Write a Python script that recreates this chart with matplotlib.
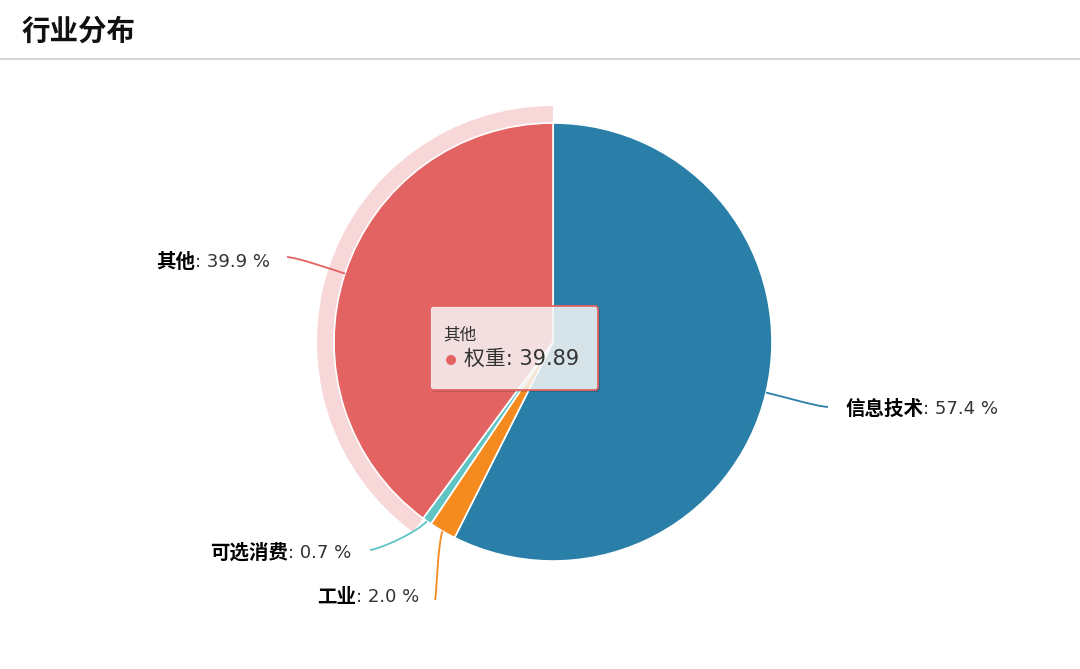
import matplotlib
matplotlib.use('Agg')
import matplotlib.pyplot as plt
import matplotlib.patches as mpatches
from matplotlib.path import Path
import numpy as np

plt.rcParams['font.family'] = ['DejaVu Sans', 'Noto Sans CJK SC']

# data
sectors = ['信息技术', '工业', '可选消费', '其他']
weights = [57.42, 1.99, 0.70, 39.89]
colors = ['#2a7fa9', '#f58a1f', '#5ec4c4', '#e36363']
hover_idx = 3  # slice under the tooltip

# layout (pixel coords, y measured from top)
W, H = 1080, 669
center_px = (553, 342)
radius = 219
halo_width = 17
label_anchor = [(845, 409), (419, 597), (351, 553), (270, 262)]
label_ha = ['left', 'right', 'right', 'right']
line_end = [(828, 407), (435, 600), (370, 550), (287, 257)]


def py(y):
    return H - y


fig = plt.figure(figsize=(W / 100, H / 100), dpi=100)
ax = fig.add_axes([0, 0, 1, 1])

cx, cy = center_px[0], py(center_px[1])
wedges, _ = ax.pie(weights, colors=colors, startangle=90, counterclock=False,
                   center=(cx, cy), radius=radius,
                   wedgeprops=dict(edgecolor='white', linewidth=1.2))

# hover halo around highlighted slice
hw = wedges[hover_idx]
halo = mpatches.Wedge((cx, cy), radius + halo_width, hw.theta1, hw.theta2,
                      width=halo_width, facecolor=colors[hover_idx], alpha=0.25,
                      edgecolor='none', zorder=0)
ax.add_patch(halo)

ax.set_xlim(0, W)
ax.set_ylim(0, H)
ax.set_aspect('auto')
ax.axis('off')

# title + separator
ax.text(22, py(32), '行业分布', fontsize=20.5, fontweight='bold', color='#111',
        ha='left', va='center')
ax.plot([0, W], [py(59), py(59)], color='#d4d4d4', linewidth=1.5)

# data labels with connectors
total = sum(weights)
for i, w in enumerate(wedges):
    mid = np.deg2rad((w.theta1 + w.theta2) / 2)
    sx, sy = cx + radius * np.cos(mid), cy + radius * np.sin(mid)
    ex, ey = line_end[i][0], py(line_end[i][1])
    # simple curved connector
    c1 = (sx + (ex - sx) * 0.1 + 8 * np.cos(mid), sy + 14 * np.sin(mid))
    c2 = (ex + (sx - ex) * 0.2, ey + (sy - ey) * 0.05)
    path = Path([(sx, sy), c1, c2, (ex, ey)],
                [Path.MOVETO, Path.CURVE4, Path.CURVE4, Path.CURVE4])
    ax.add_patch(mpatches.PathPatch(path, facecolor='none', edgecolor=colors[i],
                                    linewidth=1.3))

    pct = weights[i] / total * 100
    lx, ly = label_anchor[i][0], py(label_anchor[i][1])
    value = f': {pct:.1f} %'
    if label_ha[i] == 'left':
        t = ax.text(lx, ly, sectors[i], fontsize=14, fontweight='bold',
                    color='#000', ha='left', va='center')
        ax.annotate(value, xy=(1, 0.5), xycoords=t, fontsize=13, color='#333',
                    ha='left', va='center')
    else:
        t = ax.text(lx, ly, value, fontsize=13, color='#333',
                    ha='right', va='center')
        ax.annotate(sectors[i], xy=(0, 0.5), xycoords=t, fontsize=14,
                    fontweight='bold', color='#000', ha='right', va='center')

# tooltip
bx0, by0, bw, bh = 430, py(390), 168, 84
shadow = mpatches.FancyBboxPatch((bx0 + 2, by0 - 2), bw, bh,
                                 boxstyle='round,pad=0,rounding_size=3',
                                 facecolor='black', alpha=0.15, edgecolor='none',
                                 zorder=4)
ax.add_patch(shadow)
box = mpatches.FancyBboxPatch((bx0, by0), bw, bh,
                              boxstyle='round,pad=0,rounding_size=3',
                              facecolor=(1, 1, 1, 0.82), edgecolor=colors[hover_idx],
                              linewidth=1.3, zorder=5)
ax.add_patch(box)
ax.text(443, py(334), sectors[hover_idx], fontsize=12, color='#333',
        ha='left', va='center', zorder=6)
ax.add_patch(mpatches.Circle((451, py(360)), 5, facecolor=colors[hover_idx],
                             edgecolor='none', zorder=6))
ax.text(464, py(359), f'权重: {weights[hover_idx]:.2f}', fontsize=15, color='#333',
        ha='left', va='center', zorder=6)

fig.savefig('out.png', dpi=100)
